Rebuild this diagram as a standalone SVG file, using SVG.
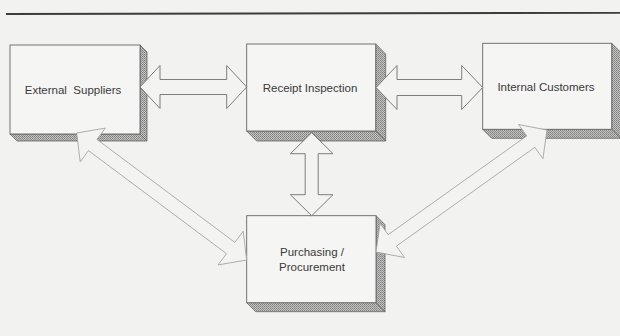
<svg xmlns="http://www.w3.org/2000/svg" width="620" height="336" viewBox="0 0 620 336">
  <defs>
    <!-- halftone texture for the extruded box sides -->
    <pattern id="halftone" width="2" height="2" patternUnits="userSpaceOnUse">
      <rect width="2" height="2" fill="#c2c2c0"/>
      <rect width="1" height="1" fill="#808080"/>
      <rect x="1" y="1" width="1" height="1" fill="#929292"/>
    </pattern>
    <style>
      .face { fill: #f5f5f3; stroke: #666; stroke-width: 0.9; }
      .side { fill: url(#halftone); stroke: #666; stroke-width: 0.8; }
      .label { font-family: "Liberation Sans", Arial, sans-serif; font-size: 11.5px; fill: #3a3a3a; text-anchor: middle; white-space: pre; }
      .arrow { fill: #f3f3f1; stroke: #707070; stroke-width: 0.9; stroke-linejoin: miter; }
      .arrow.faint { stroke: #9c9c9c; stroke-width: 0.8; }
    </style>
  </defs>

  <rect width="620" height="336" fill="#f2f2f0"/>

  <!-- header rule -->
  <line x1="6" y1="14" x2="620" y2="12.8" stroke="#3c3c3c" stroke-width="1.8"/>

  <g id="external-suppliers">
    <polygon class="side" points="140,45 147,52 147,141 140,134"/>
    <polygon class="side" points="10,134 140,134 147,141 17,141"/>
    <rect class="face" x="10" y="45" width="130" height="89"/>
    <text class="label" x="73" y="94">External  Suppliers</text>
  </g>

  <g id="receipt-inspection">
    <polygon class="side" points="375.7,44 385.7,54 385.7,141 375.7,131"/>
    <polygon class="side" points="246.7,131 375.7,131 385.7,141 256.7,141"/>
    <rect class="face" x="246.7" y="44" width="129" height="87"/>
    <text class="label" x="310" y="91.5">Receipt Inspection</text>
  </g>

  <g id="internal-customers">
    <polygon class="side" points="611.7,43.3 620.7,52.3 620.7,138.3 611.7,129.3"/>
    <polygon class="side" points="482.7,129.3 611.7,129.3 620.7,138.3 491.7,138.3"/>
    <rect class="face" x="482.7" y="43.3" width="129" height="86"/>
    <text class="label" x="546" y="90.5">Internal Customers</text>
  </g>

  <g id="purchasing-procurement">
    <polygon class="side" points="376,215.7 385,224.7 385,311.7 376,302.7"/>
    <polygon class="side" points="246.7,302.7 376,302.7 385,311.7 255.7,311.7"/>
    <rect class="face" x="246.7" y="215.7" width="129.3" height="87"/>
    <text class="label" x="312" y="255.5">Purchasing /</text>
    <text class="label" x="312" y="270.5">Procurement</text>
  </g>

  <!-- two-headed block arrows between the units -->
  <g id="connectors">
    <polygon class="arrow" points="140,87 160,65.5 160,79.5 226.7,79.5 226.7,65.5 246.7,87 226.7,108.5 226.7,94.5 160,94.5 160,108.5"/>
    <polygon class="arrow" points="376,87.5 397,65.5 397,79.5 461.7,79.5 461.7,65.5 482.7,87.5 461.7,109.5 461.7,95.5 397,95.5 397,109.5"/>
    <polygon class="arrow" points="311.7,132.7 333,153.7 318.2,153.7 318.2,194.7 333,194.7 311.7,215.7 290.4,194.7 305.2,194.7 305.2,153.7 290.4,153.7"/>
    <polygon class="arrow faint" points="76.7,133 80.2,161.8 88.5,150.6 226.5,253.7 218.1,264.9 246.7,260 243.2,231.2 234.9,242.4 96.9,139.4 105.3,128.1"/>
    <polygon class="arrow faint" points="547,130 518.5,124.5 526.7,135.9 388.2,234.7 380.1,223.3 376,252 404.5,257.5 396.4,246.1 534.8,147.3 542.9,158.7"/>
  </g>
</svg>
